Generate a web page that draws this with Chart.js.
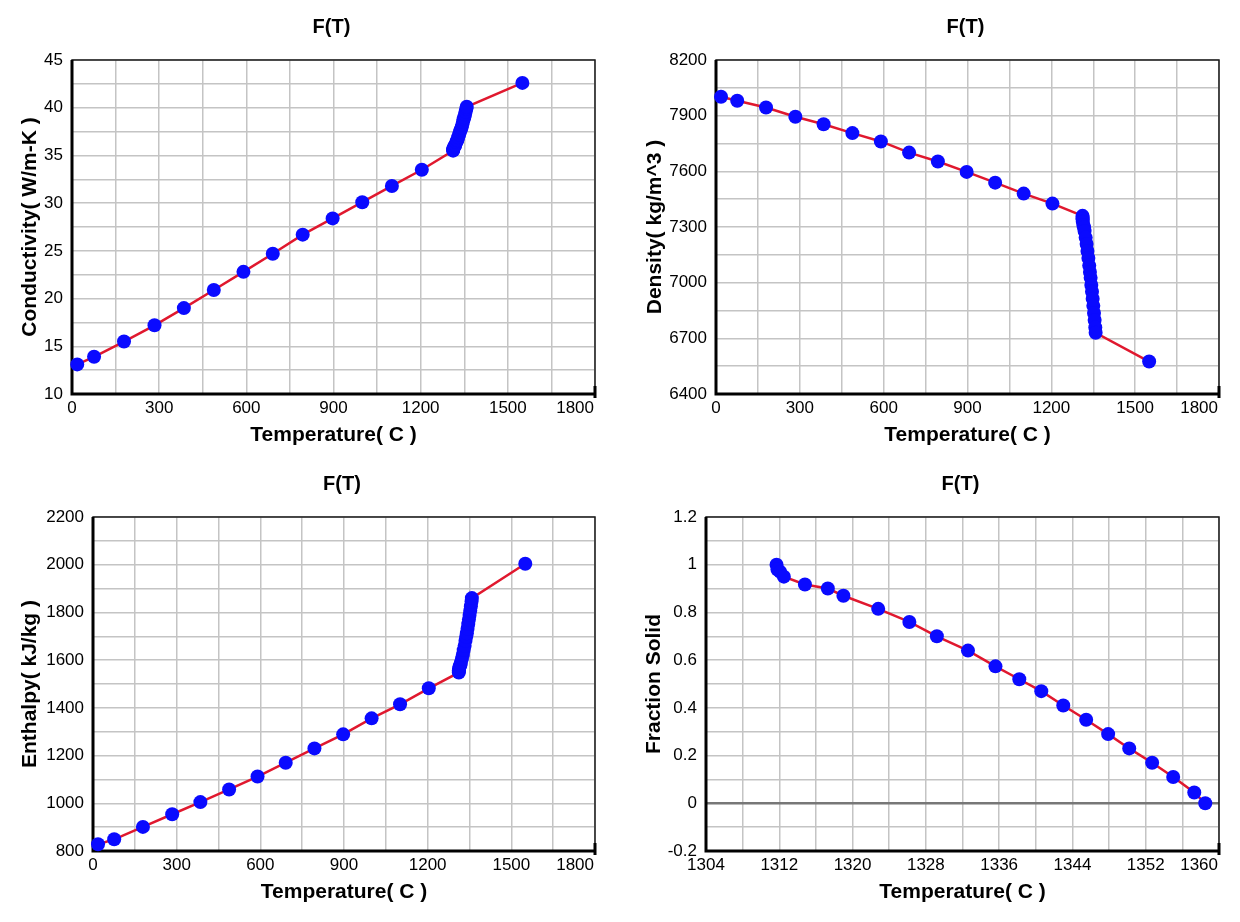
<!DOCTYPE html>
<html>
<head>
<meta charset="utf-8">
<title>F(T)</title>
<script src="https://cdn.jsdelivr.net/npm/chart.js@4.4.1/dist/chart.umd.min.js"></script>
<style>
  html, body { margin: 0; padding: 0; background: #fff; }
  body { width: 1240px; height: 922px; position: relative; overflow: hidden; }
  .panel { position: absolute; }
  canvas { display: block; }
</style>
</head>
<body>
<div class="panel" style="left:0;top:0"><canvas id="kChart" width="620" height="460"></canvas></div>
<div class="panel" style="left:620px;top:0"><canvas id="rhoChart" width="620" height="460"></canvas></div>
<div class="panel" style="left:0;top:460px"><canvas id="hChart" width="620" height="462"></canvas></div>
<div class="panel" style="left:620px;top:460px"><canvas id="fsChart" width="620" height="462"></canvas></div>
<script>
// Temperature (C) of every point in the first three plots
const temperature = [18, 76, 179, 284, 385, 488, 590, 691, 794, 897, 999, 1101, 1204,
  1311.7, 1311.8, 1312.1, 1312.5, 1314.8, 1317.3, 1319.0, 1322.8, 1326.2, 1329.2, 1332.6,
  1335.6, 1338.2, 1340.6, 1343.0, 1345.5, 1347.9, 1350.2, 1352.7, 1355.0, 1357.3, 1358.5, 1550];

// Conductivity (W/m-K)
const conductivity = [13.1, 13.9, 15.5, 17.2, 19.0, 20.9, 22.8, 24.7, 26.7, 28.4, 30.1, 31.8, 33.5,
  35.5, 35.6, 35.6, 35.7, 35.9, 36.0, 36.1, 36.4, 36.6, 36.9, 37.2,
  37.5, 37.7, 37.9, 38.2, 38.5, 38.8, 39.0, 39.3, 39.6, 39.9, 40.1, 42.6];

// Density (kg/m^3)
const density = [8002, 7980, 7944, 7894, 7854, 7806, 7761, 7701, 7653, 7597, 7539, 7480, 7426,
  7360, 7347, 7341, 7328, 7308, 7297, 7278, 7243, 7209, 7171, 7133,
  7092, 7058, 7026, 6988, 6951, 6913, 6875, 6837, 6799, 6758, 6730, 6575];

// Enthalpy (kJ/kg)
const enthalpy = [828, 849, 901, 954, 1005, 1058, 1112, 1170, 1230, 1289, 1356, 1415, 1482,
  1548, 1554, 1557, 1564, 1574, 1579, 1589, 1606, 1623, 1642, 1660,
  1681, 1698, 1713, 1732, 1751, 1770, 1789, 1807, 1826, 1846, 1860, 2004];

// Fraction solid over the freezing range
const solidTemp = [1311.7, 1311.8, 1312.1, 1312.5, 1314.8, 1317.3, 1319.0, 1322.8, 1326.2, 1329.2, 1332.6,
  1335.6, 1338.2, 1340.6, 1343.0, 1345.5, 1347.9, 1350.2, 1352.7, 1355.0, 1357.3, 1358.5];
const fractionSolid = [1.0, 0.98, 0.97, 0.95, 0.917, 0.90, 0.87, 0.815, 0.76, 0.70, 0.64,
  0.574, 0.52, 0.47, 0.41, 0.35, 0.29, 0.23, 0.17, 0.11, 0.045, 0.0];

const plotTitle = 'F(T)';
const xTitle = 'Temperature( C )';

const RED = '#e0182e';
const BLUE = '#0a0aff';
const GRID = '#c4c4c4';
const FONT = '"Liberation Sans", Arial, sans-serif';
const TICK_SIZE = 17;
const X_AXIS_H = 66;

/**
 * Frame, title and right-hand x label (that one sits flush with the edge)
 */
const framePlugin = {
  id: 'frame',
  beforeDatasetsDraw(chart) {
    const { ctx, chartArea: a } = chart;
    ctx.save();
    ctx.strokeStyle = '#1a1a1a';
    ctx.lineWidth = 1.5;
    ctx.strokeRect(a.left, a.top, a.right - a.left, a.bottom - a.top);
    ctx.strokeStyle = '#000';
    ctx.lineWidth = 3;
    ctx.beginPath();
    ctx.moveTo(a.left, a.top);
    ctx.lineTo(a.left, a.bottom);
    ctx.lineTo(a.right + 1, a.bottom);
    ctx.moveTo(a.right, a.bottom - 8);
    ctx.lineTo(a.right, a.bottom + 4);
    ctx.stroke();
    ctx.restore();
  },
  afterDraw(chart) {
    const { ctx, chartArea: a } = chart;
    const xs = chart.scales.x;
    ctx.save();
    ctx.fillStyle = '#000';
    ctx.textBaseline = 'middle';
    ctx.font = `bold 20px ${FONT}`;
    ctx.textAlign = 'center';
    ctx.fillText(plotTitle, (a.left + a.right) / 2 - 2, a.top - 33);
    ctx.font = `${TICK_SIZE}px ${FONT}`;
    ctx.textAlign = 'right';
    ctx.fillText(String(xs.max), xs.getPixelForValue(xs.max) - 1, a.bottom + 4 + TICK_SIZE * 0.6);
    ctx.restore();
  },
};

const fmt = v => String(Math.round(v * 100) / 100);
const isZero = c => c.tick && Math.abs(c.tick.value) < 1e-9;

/**
 * Build one F(T) panel
 */
function buildChart(id, cfg) {
  const canvas = document.getElementById(id);
  const { area } = cfg;
  const points = cfg.xs.map((x, i) => ({ x, y: cfg.ys[i] }));

  const gridColor = c => (cfg.zeroLine && isZero(c)) ? '#777777' : GRID;
  const gridWidth = c => (cfg.zeroLine && isZero(c)) ? 2.5 : 1.5;

  return new Chart(canvas, {
    type: 'scatter',
    data: {
      datasets: [{
        data: points,
        showLine: true,
        borderColor: RED,
        borderWidth: 2.5,
        tension: 0,
        pointRadius: 7,
        pointHoverRadius: 7,
        pointBackgroundColor: BLUE,
        pointBorderWidth: 0,
        clip: false,
      }],
    },
    options: {
      responsive: false,
      animation: false,
      devicePixelRatio: 1,
      events: [],
      layout: {
        padding: {
          left: 0,
          top: area.top,
          right: canvas.width - area.right,
          bottom: canvas.height - area.bottom - X_AXIS_H,
        },
      },
      plugins: {
        legend: { display: false },
        tooltip: { enabled: false },
        title: { display: false },
      },
      scales: {
        x: {
          type: 'linear',
          min: cfg.xMin,
          max: cfg.xMax,
          border: { display: false },
          grid: { color: GRID, lineWidth: 1.5, drawTicks: false },
          ticks: {
            stepSize: cfg.xStep,
            autoSkip: false,
            maxRotation: 0,
            padding: 4,
            color: '#000',
            font: { family: FONT, size: TICK_SIZE },
            callback: (v, i, ticks) => (i % 2 || i === ticks.length - 1) ? '' : fmt(v),
          },
          title: {
            display: true,
            text: xTitle,
            color: '#000',
            font: { family: FONT, size: 21, weight: 'bold' },
            padding: { top: 12.4, bottom: 12.4 },
          },
          afterFit: s => { s.height = X_AXIS_H; s.paddingLeft = 0; s.paddingRight = 0; },
        },
        y: {
          type: 'linear',
          min: cfg.yMin,
          max: cfg.yMax,
          border: { display: false },
          grid: { color: gridColor, lineWidth: gridWidth, drawTicks: false },
          ticks: {
            stepSize: cfg.yStep,
            autoSkip: false,
            padding: 9,
            color: '#000',
            font: { family: FONT, size: TICK_SIZE },
            callback: (v, i) => (i % 2) ? '' : fmt(v),
          },
          title: {
            display: true,
            text: cfg.yTitle,
            color: '#000',
            font: { family: FONT, size: 21, weight: 'bold' },
            padding: { top: cfg.yTitlePad, bottom: cfg.yTitlePad },
          },
          afterFit: s => { s.width = area.left; s.paddingTop = 0; s.paddingBottom = 0; },
        },
      },
    },
    plugins: [framePlugin],
  });
}

buildChart('kChart', {
  xs: temperature, ys: conductivity,
  xMin: 0, xMax: 1800, xStep: 150,
  yMin: 10, yMax: 45, yStep: 2.5,
  yTitle: 'Conductivity( W/m-K )', yTitlePad: 17.4,
  area: { left: 72, top: 60, right: 595, bottom: 394 },
});

buildChart('rhoChart', {
  xs: temperature, ys: density,
  xMin: 0, xMax: 1800, xStep: 150,
  yMin: 6400, yMax: 8200, yStep: 150,
  yTitle: 'Density( kg/m^3 )', yTitlePad: 22.4,
  area: { left: 96, top: 60, right: 599, bottom: 394 },
});

buildChart('hChart', {
  xs: temperature, ys: enthalpy,
  xMin: 0, xMax: 1800, xStep: 150,
  yMin: 800, yMax: 2200, yStep: 100,
  yTitle: 'Enthalpy( kJ/kg )', yTitlePad: 17.4,
  area: { left: 93, top: 57, right: 595, bottom: 391 },
});

buildChart('fsChart', {
  xs: solidTemp, ys: fractionSolid,
  xMin: 1304, xMax: 1360, xStep: 4,
  yMin: -0.2, yMax: 1.2, yStep: 0.1,
  yTitle: 'Fraction Solid', yTitlePad: 21.4,
  area: { left: 86, top: 57, right: 599, bottom: 391 },
  zeroLine: true,
});
</script>
</body>
</html>
